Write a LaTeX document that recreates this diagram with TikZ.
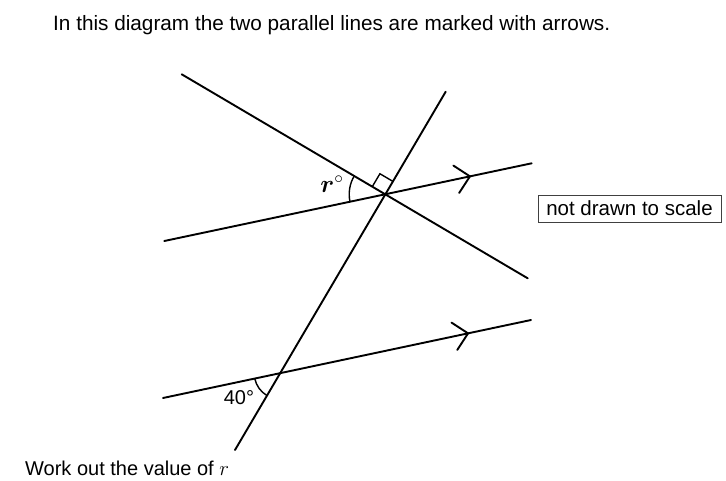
\documentclass[tikz,border=0pt]{standalone}
\usepackage{fontspec}
\usepackage{bm}
\setmainfont{Liberation Sans}
\usetikzlibrary{angles,decorations.markings,calc}
\begin{document}
\begin{tikzpicture}[x=1pt,y=1pt,
  geo/.style={line width=1.9pt, line cap=round},
  anglearc/.style={draw, line width=1.4pt},
  chev/.style={postaction={decorate,decoration={markings,
    mark=at position #1 with {\draw[line width=1.9pt,line cap=round,line join=miter] (-14pt,14pt) -- (0,0) -- (-14pt,-14pt);}}}},
  txt/.style={inner sep=0pt, font=\fontsize{20.75}{24}\selectfont},
  notebox/.style={draw=black!75, line width=0.8pt, inner sep=0pt, minimum width=183pt, minimum height=27pt, font=\fontsize{20.5}{24}\selectfont}
]
\useasboundingbox (0,0) rectangle (726,480);
% points
\coordinate (A) at (181.7,405.7);
\coordinate (B) at (527.7,201.7);
\coordinate (T1) at (445.7,388.3);
\coordinate (T2) at (235,30);
\coordinate (U1) at (164.3,239);
\coordinate (U2) at (531.7,316.7);
\coordinate (L1) at (163,82);
\coordinate (L2) at (531,160);
\coordinate (O1) at (intersection of A--B and U1--U2);
\coordinate (O2) at (intersection of T1--T2 and L1--L2);
% lines
\draw[geo] (A) -- (B);
\draw[geo] (T1) -- (T2);
\draw[geo, chev=0.832] (U1) -- (U2);
\draw[geo, chev=0.829] (L1) -- (L2);
% angles
\pic[anglearc, angle radius=36pt] {angle=A--O1--U1};
\pic[draw, line width=1.4pt, angle radius=15pt] {right angle=T1--O1--A};
\pic[anglearc, angle radius=26pt] {angle=L1--O2--T2};
% labels
\node (rlab) at (332,296) {\fontsize{32}{32}\selectfont$\bm{r}^{\scriptscriptstyle\circ}$};
\node (flab) at (239,82) {\fontsize{20}{22}\selectfont 40°};
\node[notebox] (ns) at (629.5,271.5) {not drawn to scale};
\node[txt, anchor=base west] (title) at (53,449) {In this diagram the two parallel lines are marked with arrows.};
\node[inner sep=0pt, anchor=base west, font=\fontsize{20}{22}\selectfont] (q) at (25,5) {Work out the value of {\fontsize{22}{22}\selectfont$r$}};
\end{tikzpicture}
\end{document}
